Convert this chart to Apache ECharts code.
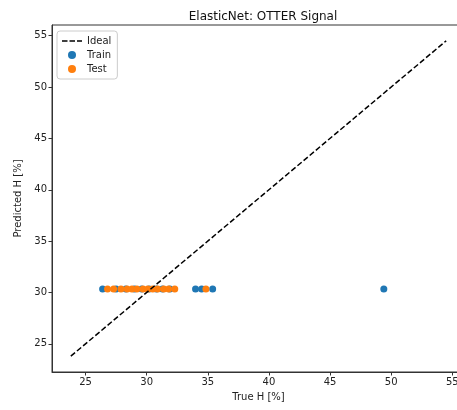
<!DOCTYPE html>
<html>
<head>
<meta charset="utf-8">
<script src="https://cdn.jsdelivr.net/npm/echarts@6/dist/echarts.min.js"></script>
<style>
  html, body { margin: 0; padding: 0; background: #fff; }
  #chart { width: 457px; height: 410px; }
</style>
</head>
<body>
<div id="chart"></div>
<script>
// values
var trainX = [26.4, 27.5, 28.3, 29.0, 29.6, 30.2, 30.8, 31.3, 31.9, 34.0, 34.5, 35.4, 49.4];
var trainY = [30.35, 30.35, 30.35, 30.35, 30.35, 30.35, 30.35, 30.35, 30.35, 30.35, 30.35, 30.35, 30.35];
var testX = [26.8, 27.3, 27.9, 28.4, 28.8, 29.2, 29.7, 30.1, 30.5, 30.9, 31.4, 31.8, 32.3, 34.85];
var testY = [30.35, 30.35, 30.35, 30.35, 30.35, 30.35, 30.35, 30.35, 30.35, 30.35, 30.35, 30.35, 30.35, 30.35];
var idealX = [23.8, 54.5];
var idealY = [23.8, 54.5];
var tickValues = [25, 30, 35, 40, 45, 50, 55];

function pairs(xs, ys) {
  return xs.map(function (x, i) { return [x, ys[i]]; });
}

var font = "DejaVu Sans";
var chart = echarts.init(document.getElementById("chart"));

// dashed legend handle, the zero-length moves keep the box 8px tall
var dashIcon = "path://M0,0L0,0M0,8L0,8M0,3.25h5.5v1.5h-5.5zM7.5,3.25h5.5v1.5h-5.5zM15,3.25h5v1.5h-5z";

var axisCommon = {
  type: "value",
  min: 22.26,
  max: 56.04,
  splitLine: { show: false },
  axisLine: { show: true, onZero: false, lineStyle: { color: "#333", width: 1 } },
  axisTick: { show: true, length: 3.5, customValues: tickValues, lineStyle: { color: "#333" } },
  axisLabel: { customValues: tickValues, color: "#222", fontFamily: font, fontSize: 10, margin: 5 },
  nameLocation: "middle",
  nameTextStyle: { color: "#222", fontFamily: font, fontSize: 10 }
};

var option = {
  animation: false,
  title: {
    text: "ElasticNet: OTTER Signal",
    left: 258,
    textAlign: "center",
    top: 6,
    textStyle: { color: "#111", fontFamily: font, fontSize: 12, fontWeight: "normal" }
  },
  grid: {
    left: 52, top: 25, right: -8, bottom: 38,
    outerBoundsMode: "none",
    show: true, borderColor: "#333", borderWidth: 1, backgroundColor: "#fff"
  },
  legend: {
    orient: "vertical",
    left: 57, top: 31,
    padding: [5, 6, 5, 5],
    itemGap: 4,
    itemWidth: 20, itemHeight: 8,
    backgroundColor: "#fff",
    borderColor: "#ccc", borderWidth: 1, borderRadius: 3,
    textStyle: { color: "#222", fontFamily: font, fontSize: 10 },
    data: [
      { name: "Ideal", icon: dashIcon, itemStyle: { color: "#000" } },
      { name: "Train", icon: "circle" },
      { name: "Test", icon: "circle" }
    ]
  },
  xAxis: Object.assign({}, axisCommon, { name: "True H [%]", nameGap: 20 }),
  yAxis: Object.assign({}, axisCommon, { name: "Predicted H [%]", nameGap: 27 }),
  series: [
    {
      name: "Ideal",
      type: "line",
      symbol: "none",
      data: pairs(idealX, idealY),
      lineStyle: { color: "#000", width: 1.5, type: [5.5, 2.5] },
      itemStyle: { color: "#000" },
      z: 3
    },
    {
      name: "Train",
      type: "scatter",
      symbolSize: 7,
      data: pairs(trainX, trainY),
      itemStyle: { color: "#1f77b4", opacity: 1 },
      z: 1
    },
    {
      name: "Test",
      type: "scatter",
      symbolSize: 7,
      data: pairs(testX, testY),
      itemStyle: { color: "#ff7f0e", opacity: 1 },
      z: 2
    }
  ]
};
chart.setOption(option);
</script>
</body>
</html>
